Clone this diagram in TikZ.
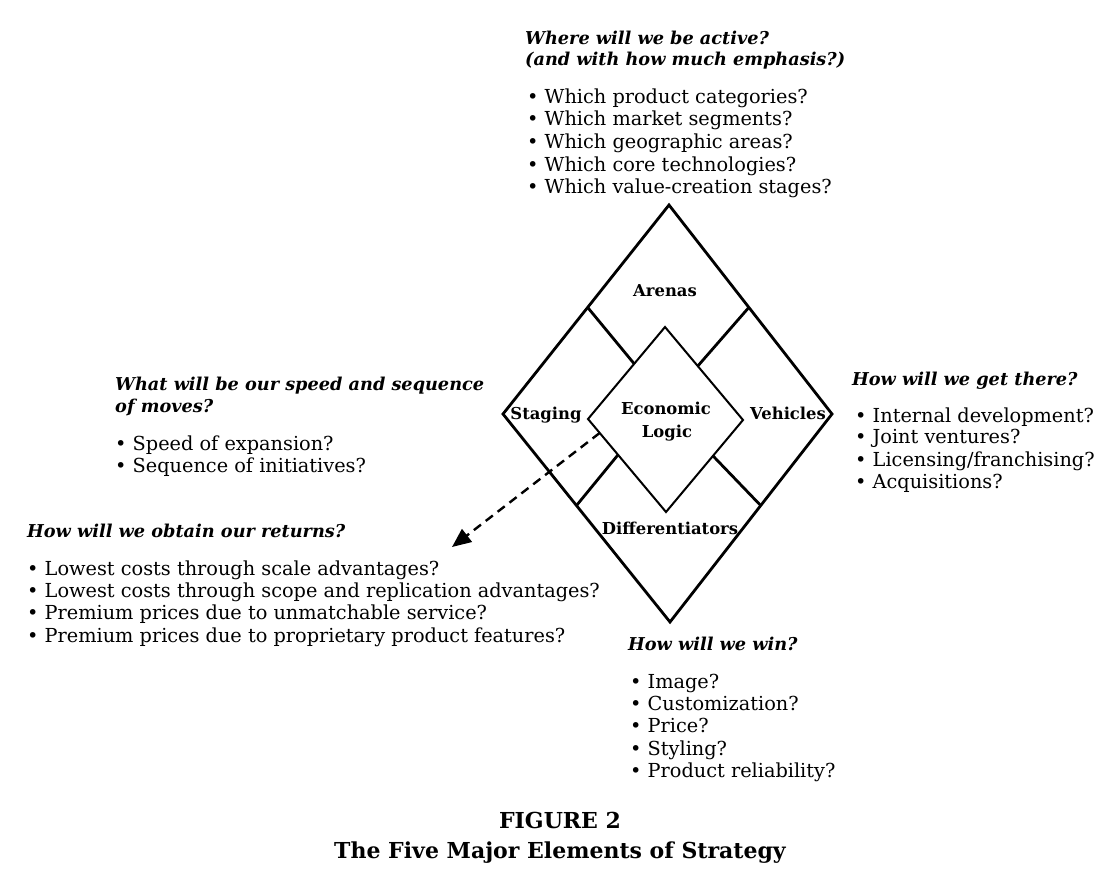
\documentclass[tikz,border=0pt]{standalone}
\usepackage{fontspec}
\setmainfont{DejaVu Serif}
\usetikzlibrary{calc,arrows.meta}
\tikzset{
  body/.style={anchor=base west, inner sep=0pt, font=\fontsize{19.3}{22}\selectfont},
  head/.style={anchor=base west, inner sep=0pt, font=\fontsize{17.7}{22}\selectfont\bfseries\itshape},
  lab/.style={anchor=base, inner sep=0pt, font=\fontsize{16.4}{20}\selectfont\bfseries},
  captext/.style={anchor=base, inner sep=0pt, font=\fontsize{22}{26}\selectfont\bfseries},
  outerline/.style={line width=2.8pt, line join=miter},
  innerline/.style={line width=2pt, line join=miter},
  link/.style={line width=2.8pt},
  dasharrow/.style={line width=2.4pt, dash pattern=on 9pt off 6pt, -{Triangle[length=19pt,width=16pt]}}
}
\begin{document}
\begin{tikzpicture}[x=1pt,y=-1pt]
\useasboundingbox (0,0) rectangle (1114,875);
% outer diamond
\coordinate (oT) at (669,205);
\coordinate (oR) at (832,414);
\coordinate (oB) at (670,622);
\coordinate (oL) at (503,414);
% inner diamond
\coordinate (iT) at (665,327);
\coordinate (iR) at (743,420);
\coordinate (iB) at (666,512);
\coordinate (iL) at (588,419);
\draw[outerline] (oT) -- (oR) -- (oB) -- (oL) -- cycle;
\draw[innerline] (iT) -- (iR) -- (iB) -- (iL) -- cycle;
% connectors
\draw[link] ($(oT)!0.49!(oL)$) -- ($(iT)!0.40!(iL)$);
\draw[link] ($(oT)!0.49!(oR)$) -- ($(iT)!0.42!(iR)$);
\draw[link] ($(oL)!0.44!(oB)$) -- ($(iL)!0.385!(iB)$);
\draw[link] ($(oR)!0.44!(oB)$) -- ($(iR)!0.39!(iB)$);
% dashed arrow
\coordinate (dStart) at ($(iL)!0.15!(iB)$);
\coordinate (dEnd) at (452,547);
\draw[dasharrow] (dStart) -- (dEnd);
% labels
\node[lab] (arenas) at (665,296) {Arenas};
\node[lab] (staging) at (546,419) {Staging};
\node[lab] (vehicles) at (788,419) {Vehicles};
\node[lab] (econ1) at (666,414) {Economic};
\node[lab] (econ2) at (667,437) {Logic};
\node[lab] (diff) at (670,534) {Differentiators};
% top block
\node[head] (th1) at (525,45) {Where will we be active?};
\node[head] (th2) at (525,66) {(and with how much emphasis?)};
\node[body] (tb1) at (527,103) {• Which product categories?};
\node[body] (tb2) at (527,125) {• Which market segments?};
\node[body] (tb3) at (527,148) {• Which geographic areas?};
\node[body] (tb4) at (527,171) {• Which core technologies?};
\node[body] (tb5) at (527,193) {• Which value-creation stages?};
% left block
\node[head] (lh1) at (115,390) {What will be our speed and sequence};
\node[head] (lh2) at (115,412) {of moves?};
\node[body] (lb1) at (115,450) {• Speed of expansion?};
\node[body] (lb2) at (115,472) {• Sequence of initiatives?};
% right block
\node[head] (rh1) at (852,385) {How will we get there?};
\node[body] (rb1) at (855,422) {• Internal development?};
\node[body] (rb2) at (855,443) {• Joint ventures?};
\node[body] (rb3) at (855,466) {• Licensing/franchising?};
\node[body] (rb4) at (855,488) {• Acquisitions?};
% returns block
\node[head] (eh1) at (27,537) {How will we obtain our returns?};
\node[body] (eb1) at (27,575) {• Lowest costs through scale advantages?};
\node[body] (eb2) at (27,597) {• Lowest costs through scope and replication advantages?};
\node[body] (eb3) at (27,619) {• Premium prices due to unmatchable service?};
\node[body] (eb4) at (27,642) {• Premium prices due to proprietary product features?};
% win block
\node[head] (wh1) at (628,650) {How will we win?};
\node[body] (wb1) at (630,688) {• Image?};
\node[body] (wb2) at (630,710) {• Customization?};
\node[body] (wb3) at (630,732) {• Price?};
\node[body] (wb4) at (630,755) {• Styling?};
\node[body] (wb5) at (630,777) {• Product reliability?};
% caption
\node[captext] (fig) at (560,828) {FIGURE 2};
\node[captext] (title) at (560,858) {The Five Major Elements of Strategy};
\end{tikzpicture}
\end{document}
